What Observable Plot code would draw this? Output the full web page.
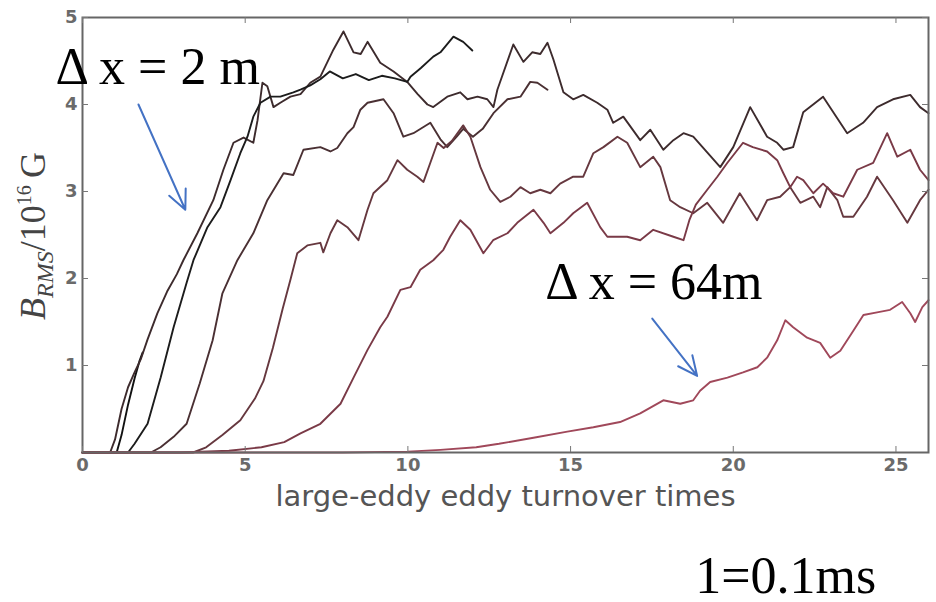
<!DOCTYPE html>
<html><head><meta charset="utf-8">
<script src="https://cdn.jsdelivr.net/npm/d3@7"></script>
<script src="https://cdn.jsdelivr.net/npm/@observablehq/plot@0.6"></script>
<style>body{margin:0;background:#fff}</style>
</head><body><div id="chart"></div>
<script>
// time in large-eddy turnover times, B_RMS in units of 1e16 G
const runShort = [[0,0],[1.05,0],[1.2,0.2],[1.4,0.55],[1.6,0.85],[1.75,1.05],[1.85,1.15]];
const runP = [[0,0],[0.85,0],[1.0,0.15],[1.2,0.5],[1.4,0.75],[1.6,0.92],[1.8,1.08],[2.0,1.3],[2.3,1.6],[2.6,1.85],[2.9,2.05],[3.1,2.21],[3.53,2.52],[4.02,2.9],[4.33,3.25],[4.64,3.56],[4.95,3.62],[5.25,3.56],[5.38,3.82],[5.53,4.25],[5.68,4.21],[5.87,3.97],[6.08,4.02],[6.39,4.09],[6.7,4.12],[7.0,4.25],[7.31,4.32],[7.71,4.63],[8.02,4.84],[8.33,4.6],[8.55,4.58],[8.76,4.72],[9.15,4.48],[9.56,4.38],[9.98,4.26],[10.3,4.12],[10.6,4.0],[10.78,3.97],[11.21,4.09],[11.61,4.14],[11.83,4.06],[12.14,4.09],[12.44,4.06],[12.63,3.97],[12.75,4.17],[13.24,4.69],[13.55,4.49],[13.82,4.6],[14.07,4.58],[14.29,4.71],[14.47,4.52],[14.78,4.14],[15.08,4.06],[15.39,4.11],[15.82,4.02],[16.13,3.94],[16.31,3.79],[16.62,3.86],[17.14,3.59],[17.45,3.71],[17.85,3.48],[18.16,3.59],[18.47,3.67],[18.77,3.63],[19.6,3.28],[20.0,3.51],[20.52,3.97],[21.04,3.63],[21.35,3.56],[21.54,3.48],[21.84,3.51],[22.15,3.91],[22.76,4.09],[23.5,3.67],[23.99,3.79],[24.42,3.97],[24.91,4.06],[25.44,4.11],[25.74,3.97],[26.0,3.9]];
const runA = [[0,0],[1.4,0],[1.6,0.1],[2.0,0.33],[2.4,0.86],[2.8,1.44],[3.2,1.95],[3.41,2.21],[3.84,2.59],[4.24,2.82],[4.55,3.13],[4.85,3.44],[5.07,3.63],[5.25,3.86],[5.47,4.02],[5.78,4.09],[6.08,4.09],[6.48,4.14],[6.7,4.17],[7.0,4.22],[7.31,4.29],[7.6,4.38],[8.0,4.3],[8.4,4.35],[8.8,4.28],[9.2,4.33],[9.6,4.3],[9.98,4.26],[10.08,4.32],[10.4,4.42],[10.78,4.55],[11.0,4.6],[11.4,4.78],[11.7,4.72],[11.98,4.62]];
const runQ = [[0,0],[2.1,0],[2.4,0.06],[2.8,0.18],[3.2,0.33],[3.6,0.79],[4.0,1.29],[4.3,1.83],[4.76,2.21],[5.25,2.52],[5.68,2.9],[6.18,3.21],[6.48,3.19],[6.79,3.48],[7.31,3.51],[7.62,3.46],[7.83,3.5],[8.14,3.67],[8.33,3.74],[8.54,3.94],[8.76,4.02],[9.25,4.06],[9.56,3.9],[9.86,3.63],[10.17,3.67],[10.69,3.79],[11.0,3.6],[11.21,3.51],[11.5,3.63],[11.7,3.72],[12.0,3.63],[12.3,3.72],[12.63,3.9],[13.06,4.06],[13.46,4.09],[13.76,4.26],[13.98,4.25],[14.29,4.17]];
const runG = [[0,0],[3.4,0],[3.8,0.06],[4.3,0.2],[4.85,0.37],[5.3,0.62],[5.56,0.82],[5.85,1.2],[6.15,1.65],[6.4,2.0],[6.6,2.29],[6.91,2.38],[7.31,2.41],[7.4,2.3],[7.62,2.52],[7.83,2.67],[8.14,2.59],[8.48,2.44],[8.76,2.79],[8.94,2.98],[9.37,3.13],[9.68,3.36],[9.98,3.25],[10.29,3.17],[10.48,3.11],[10.69,3.33],[10.91,3.56],[11.1,3.5],[11.35,3.58],[11.7,3.76],[11.92,3.63],[12.23,3.28],[12.53,3.02],[12.84,2.88],[13.15,2.94],[13.46,3.05],[13.76,2.98],[14.07,3.02],[14.38,2.98],[14.68,3.09],[15.08,3.17],[15.39,3.17],[15.7,3.44],[16.01,3.51],[16.44,3.63],[16.74,3.56],[17.14,3.28],[17.54,3.4],[17.76,3.28],[18.06,2.9],[18.37,2.82],[18.77,2.75],[19.2,2.87],[19.69,2.64],[20.2,2.98],[20.73,2.67],[21.04,2.9],[21.44,2.94],[21.75,3.05],[22.06,2.87],[22.46,2.94],[22.67,2.82],[22.89,3.05],[23.2,2.9],[23.38,2.71],[23.69,2.71],[24.11,2.94],[24.42,3.17],[24.91,2.9],[25.35,2.64],[25.74,2.9],[26.0,3.02]];
const runB = [[0,0],[3.0,0],[4.5,0.02],[5.5,0.06],[6.2,0.12],[6.7,0.22],[7.31,0.33],[7.93,0.56],[8.33,0.86],[8.76,1.18],[9.15,1.44],[9.37,1.56],[9.77,1.87],[10.08,1.9],[10.38,2.1],[10.78,2.21],[11.09,2.33],[11.3,2.48],[11.61,2.67],[11.92,2.56],[12.32,2.29],[12.62,2.44],[13.06,2.52],[13.36,2.64],[13.86,2.79],[14.17,2.64],[14.38,2.52],[14.78,2.64],[15.08,2.75],[15.51,2.87],[15.91,2.59],[16.13,2.48],[16.74,2.48],[17.14,2.44],[17.54,2.56],[18.16,2.48],[18.47,2.44],[18.65,2.67],[18.85,2.85],[19.2,3.02],[19.51,3.17],[19.82,3.33],[20.3,3.56],[20.6,3.51],[21.04,3.46],[21.35,3.36],[21.54,3.21],[21.75,3.05],[21.96,3.17],[22.15,3.13],[22.46,2.98],[22.76,3.09],[23.07,2.98],[23.38,2.94],[23.81,3.25],[24.3,3.33],[24.73,3.67],[25.04,3.4],[25.44,3.48],[25.74,3.25],[26.0,3.13]];
const run64 = [[0,0],[8,0],[10,0.01],[11,0.03],[12.1,0.06],[12.8,0.1],[13.86,0.17],[14.9,0.24],[15.7,0.29],[16.52,0.35],[17.14,0.45],[17.85,0.6],[18.37,0.56],[18.77,0.6],[18.98,0.71],[19.29,0.81],[19.82,0.86],[20.3,0.92],[20.74,0.98],[21.04,1.09],[21.35,1.29],[21.6,1.52],[21.84,1.44],[22.27,1.32],[22.67,1.26],[22.98,1.09],[23.29,1.17],[23.69,1.4],[24.0,1.58],[24.42,1.61],[24.82,1.64],[25.19,1.73],[25.44,1.6],[25.59,1.5],[25.81,1.67],[26.0,1.75]];

const runNames  = ["short", "P", "A", "Q", "G", "B", "64m"];
const runColors = ["#111111", "#3d2b2d", "#1c1c1c", "#4a3033", "#66383f", "#7a3a47", "#a0485a"];
const runPoints = [runShort, runP, runA, runQ, runG, runB, run64];

const xTicks = [0, 5, 10, 15, 20, 25];
const yTicks = [1, 2, 3, 4, 5];
const xLabel = "large-eddy eddy turnover times";

const noteTexts = ["\u0394 x = 2 m", "\u0394 x = 64m", "1=0.1ms"];
const noteX = [-0.83, 14.22, 18.83];
const noteY = [4.43, 1.95, -1.42];
const arrowFrom = [[1.72, 4.0], [17.51, 1.54]];
const arrowTo   = [[3.16, 2.79], [18.89, 0.88]];

const rows = runNames.flatMap((name, i) => runPoints[i].map(([t, b]) => ({run: name, t, b})));
const notes = noteTexts.map((text, i) => ({text, x: noteX[i], y: noteY[i]}));
const arrows = arrowFrom.map((f, i) => ({x1: f[0], y1: f[1], x2: arrowTo[i][0], y2: arrowTo[i][1]}));

const plot = Plot.plot({
  width: 936, height: 602,
  marginLeft: 82, marginRight: 8, marginTop: 17, marginBottom: 150,
  style: {background: "#fff", fontFamily: "DejaVu Sans", overflow: "visible"},
  x: {domain: [0, 26]},
  y: {domain: [0, 5]},
  color: {domain: runNames, range: runColors},
  marks: [
    Plot.line(rows, {x: "t", y: "b", z: "run", stroke: "run", strokeWidth: 1.9}),
    Plot.frame({stroke: "#666", strokeWidth: 2}),
    Plot.tickX(xTicks, {x: d => d, stroke: "#777", insetTop: 429}),
    Plot.tickX(xTicks, {x: d => d, stroke: "#777", insetBottom: 429}),
    Plot.tickY(yTicks, {y: d => d, stroke: "#777", insetRight: 840}),
    Plot.tickY(yTicks, {y: d => d, stroke: "#777", insetLeft: 840}),
    Plot.axisX({ticks: xTicks, tickFormat: d => String(d), tickSize: 0, tickPadding: 6, fontSize: 18, fontWeight: "bold", color: "#6a6a6a", label: null}),
    Plot.axisY({ticks: yTicks, tickFormat: d => String(d), tickSize: 0, tickPadding: 5, fontSize: 18, fontWeight: "bold", color: "#6a6a6a", label: null}),
    Plot.text([xLabel], {frameAnchor: "bottom", dy: 53, fontSize: 29, fill: "#555", fontFamily: "DejaVu Sans"}),
    Plot.arrow(arrows, {x1: "x1", y1: "y1", x2: "x2", y2: "y2", stroke: "#4472c4", strokeWidth: 2, headLength: 16, headAngle: 50}),
    Plot.text(notes, {x: "x", y: "y", text: "text", textAnchor: "start", fontSize: 52, fill: "#000", fontFamily: "Liberation Serif", letterSpacing: "2.5px"})
  ]
});

const svg = d3.select(plot);
const yl = svg.append("text")
  .attr("transform", "translate(45,236) rotate(-90)")
  .attr("text-anchor", "middle")
  .attr("fill", "#444")
  .attr("font-family", "Liberation Serif")
  .attr("font-size", 36);
yl.append("tspan").attr("font-style", "italic").text("B");
yl.append("tspan").attr("font-style", "italic").attr("font-size", 24).attr("dy", 8).text("RMS");
yl.append("tspan").attr("dy", -8).text("/10");
yl.append("tspan").attr("font-size", 20).attr("dy", -14).text("16");
yl.append("tspan").attr("dy", 14).text("\u2009G");

document.getElementById("chart").append(plot);
</script>
</body></html>
